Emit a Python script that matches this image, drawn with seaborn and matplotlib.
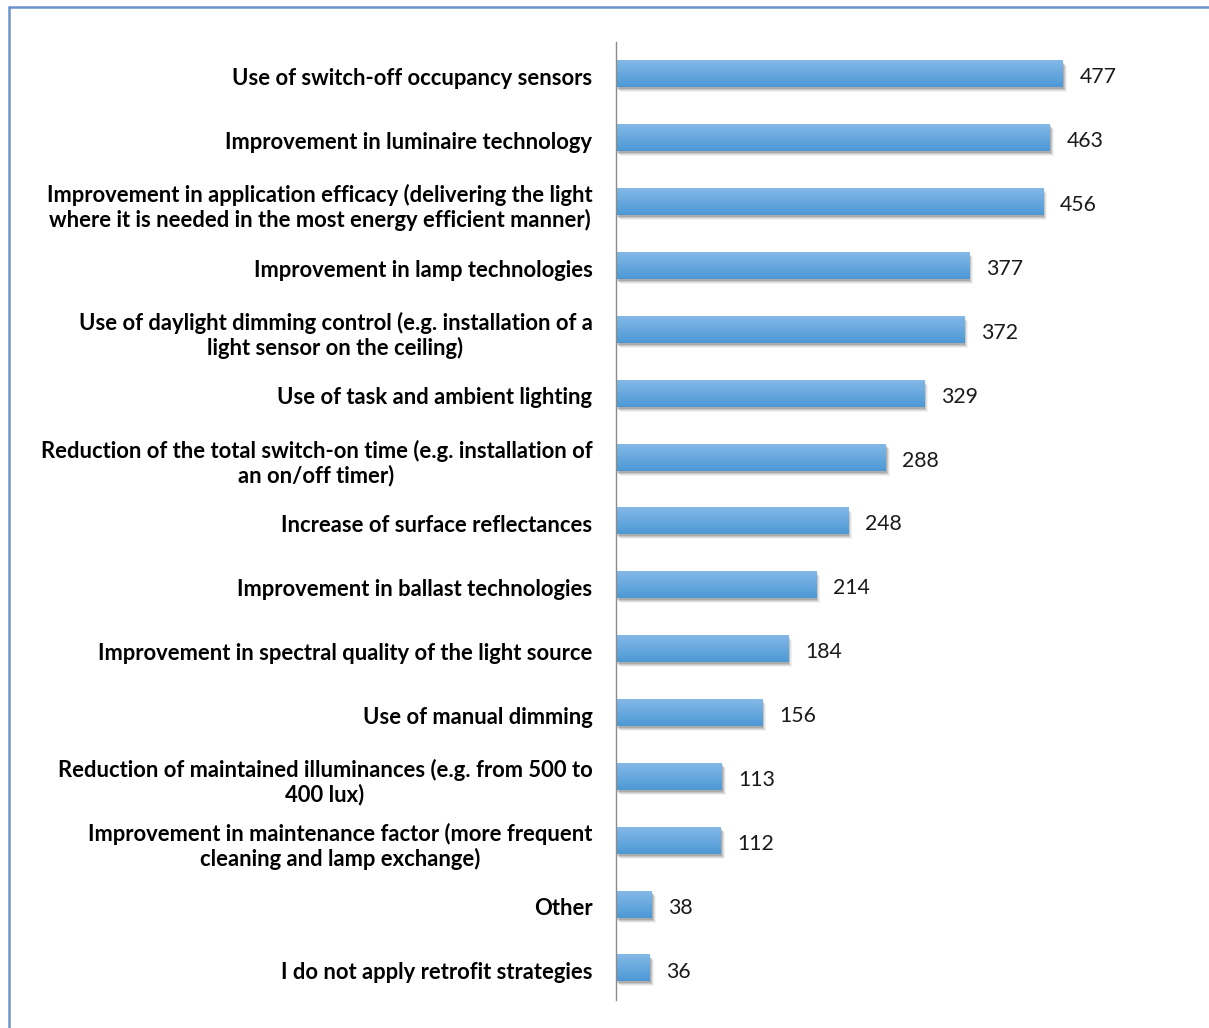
import numpy as np
import pandas as pd
import matplotlib
matplotlib.use("Agg")
import matplotlib.pyplot as plt
import matplotlib.transforms as mtransforms
from matplotlib.patches import Rectangle
from matplotlib.lines import Line2D
import seaborn as sns

strategies = [
    "Use of switch-off occupancy sensors",
    "Improvement in luminaire technology",
    "Improvement in application efficacy (delivering the light\nwhere it is needed in the most energy efficient manner)",
    "Improvement in lamp technologies",
    "Use of daylight dimming control (e.g. installation of a\nlight sensor on the ceiling)",
    "Use of task and ambient lighting",
    "Reduction of the total switch-on time (e.g. installation of\nan on/off timer)",
    "Increase of surface reflectances",
    "Improvement in ballast technologies",
    "Improvement in spectral quality of the light source",
    "Use of manual dimming",
    "Reduction of maintained illuminances (e.g. from 500 to\n400 lux)",
    "Improvement in maintenance factor (more frequent\ncleaning and lamp exchange)",
    "Other",
    "I do not apply retrofit strategies",
]
responses = [477, 463, 456, 377, 372, 329, 288, 248, 214, 184, 156, 113, 112, 38, 36]

df = pd.DataFrame({"strategy": strategies, "responses": responses})

sns.set_theme(style="white")
plt.rcParams["font.family"] = ["Lato", "DejaVu Sans"]

fig = plt.figure(figsize=(12.09, 10.28), dpi=100)
ax = fig.add_axes([616 / 1209, 1 - 1000 / 1028, (1178 - 616) / 1209, (1000 - 42) / 1028])

sns.barplot(data=df, x="responses", y="strategy", orient="h", width=0.42,
            color="#5fa5dd", ax=ax)

ax.set_xlim(0, 600)
ax.set_ylim(len(strategies) - 0.5, -0.5)

top_col = np.array([0x84, 0xb9, 0xe8]) / 255
bot_col = np.array([0x4c, 0x98, 0xd5]) / 255
grad = np.linspace(0, 1, 64)[:, None, None]
grad_img = top_col * (1 - grad) + bot_col * grad

for patch in ax.patches:
    x0, y0 = patch.get_x(), patch.get_y()
    w, h = patch.get_width(), patch.get_height()
    # soft drop shadow beneath each bar
    for dx, dy, a in [(4, 5, 0.06), (3, 4, 0.10), (2, 3, 0.16), (1, 2, 0.2)]:
        tr = mtransforms.offset_copy(ax.transData, fig=fig, x=dx, y=-dy, units="dots")
        ax.add_patch(Rectangle((x0, y0), w, h, transform=tr, facecolor="#404040",
                               edgecolor="none", alpha=a, zorder=1))
    # vertical gradient fill
    ax.imshow(grad_img, extent=(x0, x0 + w, y0 + h, y0), aspect="auto",
              interpolation="bilinear", zorder=2)
    patch.set_facecolor("none")
    patch.set_edgecolor("none")

ax.set_xlim(0, 600)
ax.set_ylim(len(strategies) - 0.5, -0.5)

value_texts = ax.bar_label(ax.containers[0], labels=[str(v) for v in responses],
                           padding=12, fontsize=15.3, color="#1a1a1a")
for t in value_texts:
    t.xyann = (12, -2.5)

ax.set_xlabel("")
ax.set_ylabel("")
ax.set_xticks([])
ax.tick_params(axis="y", length=0, pad=17)
shift_down = mtransforms.ScaledTranslation(0, -2.5 / 100, fig.dpi_scale_trans)
for tick in ax.yaxis.get_major_ticks():
    lbl = tick.label1
    lbl.set_fontweight("bold")
    lbl.set_fontsize(15.8)
    lbl.set_color("#000000")
    lbl.set_multialignment("center")
    lbl.set_linespacing(1.15)
    lbl.set_transform(lbl.get_transform() + shift_down)

for side in ["top", "right", "bottom"]:
    ax.spines[side].set_visible(False)
ax.spines["left"].set_color("#8c8c8c")
ax.spines["left"].set_linewidth(1.0)

# frame around the chart area
fig.add_artist(Line2D([8.5 / 1209, 8.5 / 1209], [0, 1 - 7 / 1028],
                      transform=fig.transFigure, color="#6a95cc", lw=1.8))
fig.add_artist(Line2D([8.5 / 1209, 1], [1 - 7 / 1028, 1 - 7 / 1028],
                      transform=fig.transFigure, color="#6a95cc", lw=1.8))

fig.savefig("out.png", dpi=100)
